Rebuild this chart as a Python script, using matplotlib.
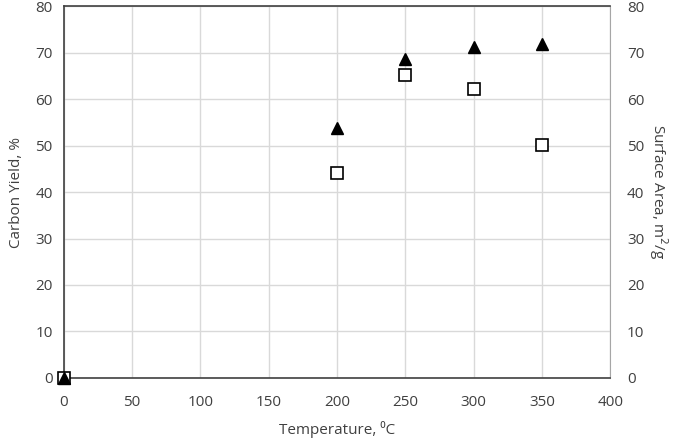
import matplotlib
matplotlib.use("Agg")
import matplotlib.pyplot as plt

plt.rcParams['font.family'] = ['Open Sans', 'DejaVu Sans']
plt.rcParams['font.size'] = 11

# data
temperature = [0, 200, 250, 300, 350]
carbon_yield = [0, 53.8, 68.7, 71.2, 71.8]
surface_area = [0, 44.2, 65.2, 62.2, 50.1]

fig, ax = plt.subplots(figsize=(6.85, 4.42), dpi=100)
fig.subplots_adjust(left=0.093, right=0.891, top=0.986, bottom=0.145)

ax.set_xlim(0, 400)
ax.set_ylim(0, 80)
ax.set_xticks(range(0, 401, 50))
ax.set_yticks(range(0, 81, 10))
ax.grid(True, color='#d9d9d9', lw=1)
ax.set_axisbelow(True)
ax.tick_params(length=0, colors='#404040')
ax.tick_params(axis='x', pad=12)
ax.tick_params(axis='y', pad=8)
for s in ['left', 'bottom', 'top']:
    ax.spines[s].set_color('#404040')
    ax.spines[s].set_linewidth(1.2)
ax.spines['right'].set_color('#a6a6a6')

ax2 = ax.twinx()
ax2.set_ylim(0, 80)
ax2.set_yticks(range(0, 81, 10))
ax2.tick_params(length=0, pad=12, colors='#404040')
for s in ax2.spines.values():
    s.set_visible(False)
ax2.set_ylabel('Surface Area, m$^2$/g', color='#404040', rotation=270, labelpad=18)

# both series share the same 0-80 scale; draw on ax2 so triangles sit on top
ax2.plot(temperature, surface_area, 's', mfc='white', mec='black', mew=1.2, ms=8,
         clip_on=False, zorder=4)
ax2.plot(temperature, carbon_yield, '^', color='black', ms=9, clip_on=False, zorder=5)

ax.set_xlabel('Temperature, \u2070C', color='#404040', labelpad=8)
ax.set_ylabel('Carbon Yield, %', color='#404040', labelpad=8)

fig.savefig('out.png', dpi=100)
